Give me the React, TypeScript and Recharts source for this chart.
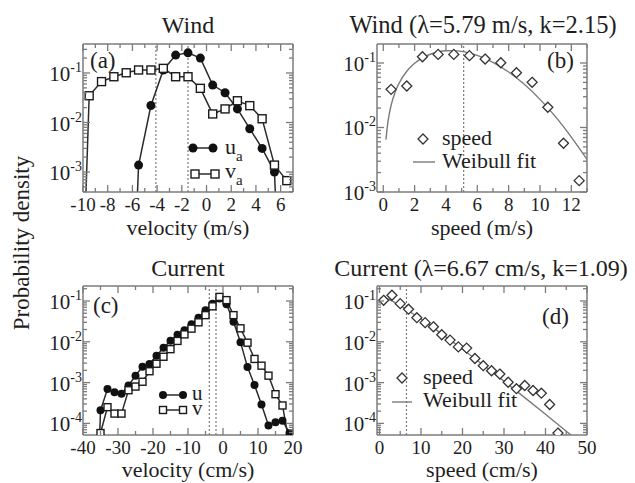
import React from "react";
import { ComposedChart, Line, Scatter, XAxis, YAxis, ReferenceLine } from "recharts";

const FONT = "Liberation Serif";
const INK = "#1e1e1e";
const FRAME = "#7c7c7c";
const DATA = "#2b2b2b";
const FIT = "#7a7a7a";
const TINY = 1e-9; // empty bins: drawn far below the log axis, so the line drops out of the frame

// (a) wind velocity components (m/s)
const uaBins = [-6.5, -5.5, -4.5, -3.5, -2.5, -1.5, -0.5, 0.5, 1.5, 2.5, 3.5, 4.5, 5.5, 6.5];
const uaDensity = [TINY, 0.00138, 0.022, 0.115, 0.23, 0.255, 0.2, 0.057, 0.04, 0.0188, 0.0075, 0.003, 0.001, TINY];
const vaBins = [-10.5, -9.5, -8.5, -7.5, -6.5, -5.5, -4.5, -3.5, -2.5, -1.5, -0.5, 0.5, 1.5, 2.5, 3.5, 4.5, 5.5, 6.5];
const vaDensity = [TINY, 0.0347, 0.067, 0.084, 0.101, 0.115, 0.115, 0.124, 0.084, 0.084, 0.049, 0.0149, 0.0188, 0.0275, 0.0219, 0.0119, 0.00138, 0.00067];
const windMeans = [-4.1, -1.5];

// (b) wind speed (m/s) + Weibull fit
const windSpeedBins = [0.5, 1.5, 2.5, 3.5, 4.5, 5.5, 6.5, 7.5, 8.5, 9.5, 10.5, 11.5, 12.5];
const windSpeedDensity = [0.039, 0.044, 0.125, 0.136, 0.136, 0.13, 0.115, 0.101, 0.0708, 0.0502, 0.0206, 0.0057, 0.0015];
const windFitSpeed = [0.17, 0.3, 0.5, 0.75, 1, 1.5, 2, 2.5, 3, 3.5, 4, 4.5, 5, 6, 7, 8, 9, 10, 11, 12, 13];
const windFitDensity = [0.0065, 0.0123, 0.0221, 0.035, 0.0482, 0.0744, 0.0988, 0.12, 0.1367, 0.1483, 0.1545, 0.1553, 0.1513, 0.1314, 0.1026, 0.0726, 0.0467, 0.0273, 0.0146, 0.0071, 0.0032];
const windMeanSpeed = [5.13];

// (c) current velocity components (cm/s)
const uBins = [-37, -35, -33, -31, -29, -27, -25, -23, -21, -19, -17, -15, -13, -11, -9, -7, -5, -3, -1, 1, 3, 5, 7, 9, 11, 13, 15, 17, 19];
const uDensity = [TINY, 2.1e-4, 7.0e-4, 5.8e-4, 5.3e-4, 8.5e-4, 1.48e-3, 2.45e-3, 2.85e-3, 4.57e-3, 7.1e-3, 0.0106, 0.0148, 0.0193, 0.027, 0.039, 0.059, 0.086, 0.115, 0.083, 0.031, 0.0098, 0.0024, 0.00087, 0.00029, 0.000089, 0.000107, 0.000117, 0.000058];
const vBins = [-35, -33, -31, -29, -27, -25, -23, -21, -19, -17, -15, -13, -11, -9, -7, -5, -3, -1, 1, 3, 5, 7, 9, 11, 13, 15, 17, 19];
const vDensity = [5.8e-5, 2.5e-4, 1.74e-4, 1.74e-4, 6.5e-4, 8.0e-4, 1.05e-3, 1.9e-3, 2.9e-3, 4.3e-3, 6.6e-3, 0.0105, 0.0152, 0.021, 0.03, 0.045, 0.074, 0.126, 0.105, 0.045, 0.0214, 0.0095, 0.0038, 0.0026, 0.00148, 0.00052, 0.000275, 3e-5];
const currentMeans = [-3.9, -2.0];

// (d) current speed (cm/s) + Weibull fit
const currentSpeedBins = [1, 3, 5, 7, 9, 11, 13, 15, 17, 19, 21, 23, 25, 27, 29, 31, 33, 35, 37, 39, 41, 43];
const currentSpeedDensity = [0.104, 0.138, 0.086, 0.063, 0.039, 0.0295, 0.0233, 0.0149, 0.011, 0.0075, 0.007, 0.0039, 0.0026, 0.00195, 0.00162, 0.00102, 0.00071, 0.00085, 0.00064, 0.00055, 0.00029, 0.000058];
const currentFitSpeed = [0.2, 1, 2, 3, 5, 7.5, 10, 12.5, 15, 20, 25, 30, 35, 40, 45, 47];
const currentFitDensity = [0.1166, 0.1214, 0.112, 0.1, 0.0767, 0.053, 0.0358, 0.0238, 0.01565, 0.00659, 0.0027, 0.001085, 0.000429, 0.0001672, 0.0000644, 0.0000438];
const currentMeanSpeed = [6.5];

const pts = (xs: number[], ys: number[]) => xs.map((x, i) => ({ x, y: ys[i] }));
const range = (a: number, b: number, s: number) => {
  const out: number[] = [];
  for (let v = a; v <= b + 1e-9; v += s) out.push(v);
  return out;
};
const logTicks = (lo: number, hi: number) => {
  const out: number[] = [];
  for (let e = Math.floor(Math.log10(lo)); e <= Math.ceil(Math.log10(hi)); e++) {
    for (let m = 1; m < 10; m++) {
      const v = m * Math.pow(10, e);
      if (v >= lo * 0.999 && v <= hi) out.push(v);
    }
  }
  return out;
};
const isDecade = (v: number) => Math.abs(Math.log10(v) - Math.round(Math.log10(v))) < 1e-6;

type PanelCfg = {
  div: number[]; // left, top, width, height
  plot: number[]; // x0, y0, x1, y1 (page px)
  xDomain: number[];
  xTicks: number[];
  xLabels: number[];
  yDomain: number[];
};

const panelA: PanelCfg = { div: [0, 0, 318, 240], plot: [83, 44, 293, 192], xDomain: [-10, 7], xTicks: range(-10, 7, 1), xLabels: range(-10, 6, 2), yDomain: [3.95e-4, 0.385] };
const panelB: PanelCfg = { div: [318, 0, 317, 240], plot: [377, 44, 587, 192], xDomain: [-0.4, 13], xTicks: range(0, 13, 1), xLabels: range(0, 12, 2), yDomain: [1e-3, 0.197] };
const panelC: PanelCfg = { div: [0, 240, 318, 243], plot: [83, 286, 293, 435], xDomain: [-40, 20], xTicks: range(-40, 20, 5), xLabels: range(-40, 20, 10), yDomain: [5.2e-5, 0.233] };
const panelD: PanelCfg = { div: [318, 240, 317, 243], plot: [377, 286, 587, 435], xDomain: [-0.6, 50], xTicks: range(0, 50, 5), xLabels: range(0, 50, 10), yDomain: [5.2e-5, 0.233] };

const MAJOR = 7;
const MINOR = 4;

function Panel({ cfg, series }: { cfg: PanelCfg; series: React.ReactNode[] }) {
  const [dl, dt, dw, dh] = cfg.div;
  const [x0, y0, x1, y1] = cfg.plot;
  const margin = { left: x0 - dl - 1, right: dl + dw - x1 - 1, top: y0 - dt - 1, bottom: dt + dh - y1 - 1 };
  const labelled = (v: number) => cfg.xLabels.some((l) => Math.abs(l - v) < 1e-9);
  const yTicks = logTicks(cfg.yDomain[0], cfg.yDomain[1]);
  const line = { stroke: FRAME, strokeWidth: 1.5 };

  const bottomTick = (p: any) => {
    const v = p.payload.value;
    const major = labelled(v);
    return (
      <g>
        <line x1={p.x} x2={p.x} y1={p.y} y2={p.y - (major ? MAJOR : MINOR)} stroke={FRAME} strokeWidth={1.3} />
        {major && (
          <text x={p.x} y={p.y + 19} textAnchor="middle" fontSize={19} fontFamily={FONT} fill={INK}>
            {String(v)}
          </text>
        )}
      </g>
    );
  };
  const topTick = (p: any) => {
    const major = labelled(p.payload.value);
    return <line x1={p.x} x2={p.x} y1={p.y} y2={p.y + (major ? MAJOR : MINOR)} stroke={FRAME} strokeWidth={1.3} />;
  };
  const leftTick = (p: any) => {
    const v = p.payload.value;
    const major = isDecade(v);
    return (
      <g>
        <line x1={p.x} x2={p.x + (major ? MAJOR : MINOR)} y1={p.y} y2={p.y} stroke={FRAME} strokeWidth={1.3} />
        {major && (
          <text x={p.x - 1} y={p.y + 8} textAnchor="end" fontSize={21} fontFamily={FONT} fill={INK}>
            10
            <tspan dy={-9} fontSize={14}>
              {String(Math.round(Math.log10(v)))}
            </tspan>
          </text>
        )}
      </g>
    );
  };
  const rightTick = (p: any) => {
    const major = isDecade(p.payload.value);
    return <line x1={p.x} x2={p.x - (major ? MAJOR : MINOR)} y1={p.y} y2={p.y} stroke={FRAME} strokeWidth={1.3} />;
  };

  return (
    <div style={{ position: "absolute", left: dl, top: dt }}>
      <ComposedChart width={dw} height={dh} margin={margin}>
        <XAxis xAxisId="b" type="number" dataKey="x" domain={cfg.xDomain} allowDataOverflow ticks={cfg.xTicks} interval={0} height={1} tickSize={0} tickMargin={0} tickLine={false} axisLine={line} tick={bottomTick} />
        <XAxis xAxisId="t" orientation="top" type="number" dataKey="x" domain={cfg.xDomain} allowDataOverflow ticks={cfg.xTicks} interval={0} height={1} tickSize={0} tickMargin={0} tickLine={false} axisLine={line} tick={topTick} />
        <YAxis yAxisId="l" type="number" dataKey="y" scale="log" domain={cfg.yDomain} allowDataOverflow ticks={yTicks} interval={0} width={1} tickSize={0} tickMargin={0} tickLine={false} axisLine={line} tick={leftTick} />
        <YAxis yAxisId="r" orientation="right" type="number" dataKey="y" scale="log" domain={cfg.yDomain} allowDataOverflow ticks={yTicks} interval={0} width={1} tickSize={0} tickMargin={0} tickLine={false} axisLine={line} tick={rightTick} />
        {series}
      </ComposedChart>
    </div>
  );
}

const circleDot = (r: number, lo: number) => (p: any) =>
  Number.isFinite(p.cy) && p.payload && p.payload.y >= lo ? (
    <circle key={p.index} cx={p.cx} cy={p.cy} r={r} fill="#111" />
  ) : (
    <g key={p.index} />
  );
const squareDot = (s: number, lo: number) => (p: any) =>
  Number.isFinite(p.cy) && p.payload && p.payload.y >= lo ? (
    <rect key={p.index} x={p.cx - s / 2} y={p.cy - s / 2} width={s} height={s} fill="#fff" stroke="#1a1a1a" strokeWidth={1.4} />
  ) : (
    <g key={p.index} />
  );
const diamondShape = (h: number) => (p: any) => (
  <polygon points={`${p.cx},${p.cy - h} ${p.cx + h},${p.cy} ${p.cx},${p.cy + h} ${p.cx - h},${p.cy}`} fill="#fff" stroke="#333" strokeWidth={1.3} />
);

const means = (xs: number[]) =>
  xs.map((x, i) => <ReferenceLine key={`m${i}`} xAxisId="b" yAxisId="l" x={x} stroke={FIT} strokeWidth={1.2} strokeDasharray="2 2" />);

const dataLine = (key: string, data: any[], dot: any) => (
  <Line key={key} xAxisId="b" yAxisId="l" data={data} dataKey="y" type="linear" stroke={DATA} strokeWidth={1.5} dot={dot} activeDot={false} isAnimationActive={false} />
);
const fitLine = (key: string, data: any[]) => (
  <Line key={key} xAxisId="b" yAxisId="l" data={data} dataKey="y" type="monotone" stroke={FIT} strokeWidth={1.4} dot={false} activeDot={false} isAnimationActive={false} />
);
const speedScatter = (key: string, data: any[]) => (
  <Scatter key={key} xAxisId="b" yAxisId="l" data={data} dataKey="y" shape={diamondShape(5)} isAnimationActive={false} />
);

const T = { fontFamily: FONT, fill: INK };

export default function App() {
  return (
    <div style={{ position: "absolute", left: 0, top: 0, width: 635, height: 483, background: "#fff", overflow: "hidden" }}>
      <Panel
        cfg={panelA}
        series={[
          ...means(windMeans),
          dataLine("ua", pts(uaBins, uaDensity), circleDot(4.5, panelA.yDomain[0])),
          dataLine("va", pts(vaBins, vaDensity), squareDot(8, panelA.yDomain[0])),
        ]}
      />
      <Panel
        cfg={panelB}
        series={[...means(windMeanSpeed), fitLine("fit", pts(windFitSpeed, windFitDensity)), speedScatter("sp", pts(windSpeedBins, windSpeedDensity))]}
      />
      <Panel
        cfg={panelC}
        series={[
          ...means(currentMeans),
          dataLine("u", pts(uBins, uDensity), circleDot(4, panelC.yDomain[0])),
          dataLine("v", pts(vBins, vDensity), squareDot(7, panelC.yDomain[0])),
        ]}
      />
      <Panel
        cfg={panelD}
        series={[...means(currentMeanSpeed), fitLine("fit", pts(currentFitSpeed, currentFitDensity)), speedScatter("sp", pts(currentSpeedBins, currentSpeedDensity))]}
      />

      <svg width={635} height={483} style={{ position: "absolute", left: 0, top: 0, pointerEvents: "none" }}>
        {/* titles */}
        <text x={188} y={33} textAnchor="middle" fontSize={24} {...T}>Wind</text>
        <text x={483} y={33} textAnchor="middle" fontSize={24.5} {...T}>Wind (λ=5.79 m/s, k=2.15)</text>
        <text x={188} y={276} textAnchor="middle" fontSize={24} {...T}>Current</text>
        <text x={481} y={276} textAnchor="middle" fontSize={24} {...T}>Current (λ=6.67 cm/s, k=1.09)</text>

        {/* axis titles */}
        <text x={188} y={235} textAnchor="middle" fontSize={22} {...T}>velocity (m/s)</text>
        <text x={482} y={235} textAnchor="middle" fontSize={22} {...T}>speed (m/s)</text>
        <text x={188} y={477} textAnchor="middle" fontSize={22} {...T}>velocity (cm/s)</text>
        <text x={482} y={477} textAnchor="middle" fontSize={22} {...T}>speed (cm/s)</text>
        <text transform="translate(29,243) rotate(-90)" textAnchor="middle" fontSize={23} {...T}>Probability density</text>

        {/* panel tags */}
        <text x={90} y={68} fontSize={23} {...T}>(a)</text>
        <text x={547} y={68} fontSize={23} {...T}>(b)</text>
        <text x={93} y={313} fontSize={23} {...T}>(c)</text>
        <text x={542} y={324} fontSize={23} {...T}>(d)</text>

        {/* legend (a) */}
        <line x1={193} x2={213} y1={148} y2={148} stroke={DATA} strokeWidth={1.5} />
        <circle cx={193} cy={148} r={4.5} fill="#111" />
        <circle cx={213} cy={148} r={4.5} fill="#111" />
        <text x={225} y={154} fontSize={22} {...T}>u<tspan dy={7} fontSize={15}>a</tspan></text>
        <line x1={195} x2={215} y1={174} y2={174} stroke={DATA} strokeWidth={1.5} />
        <rect x={191} y={170} width={8} height={8} fill="#fff" stroke="#1a1a1a" strokeWidth={1.4} />
        <rect x={211} y={170} width={8} height={8} fill="#fff" stroke="#1a1a1a" strokeWidth={1.4} />
        <text x={225} y={178} fontSize={22} {...T}>v<tspan dy={7} fontSize={15}>a</tspan></text>

        {/* legend (b) */}
        <polygon points="423,134 428,139 423,144 418,139" fill="#fff" stroke="#333" strokeWidth={1.3} />
        <text x={442} y={145} fontSize={22} {...T}>speed</text>
        <line x1={413} x2={435} y1={162} y2={162} stroke={FIT} strokeWidth={1.4} />
        <text x={442} y={168} fontSize={22} {...T}>Weibull fit</text>

        {/* legend (c) */}
        <line x1={163} x2={183} y1={395} y2={395} stroke={DATA} strokeWidth={1.5} />
        <circle cx={163} cy={395} r={4} fill="#111" />
        <circle cx={183} cy={395} r={4} fill="#111" />
        <text x={192} y={400} fontSize={21} {...T}>u</text>
        <line x1={163} x2={183} y1={410} y2={410} stroke={DATA} strokeWidth={1.5} />
        <rect x={159.5} y={406.5} width={7} height={7} fill="#fff" stroke="#1a1a1a" strokeWidth={1.4} />
        <rect x={179.5} y={406.5} width={7} height={7} fill="#fff" stroke="#1a1a1a" strokeWidth={1.4} />
        <text x={192} y={415} fontSize={21} {...T}>v</text>

        {/* legend (d) */}
        <polygon points="402,373 407,378 402,383 397,378" fill="#fff" stroke="#333" strokeWidth={1.3} />
        <text x={423} y={384} fontSize={22} {...T}>speed</text>
        <line x1={392} x2={412} y1={402} y2={402} stroke={FIT} strokeWidth={1.4} />
        <text x={423} y={407} fontSize={22} {...T}>Weibull fit</text>
      </svg>
    </div>
  );
}
